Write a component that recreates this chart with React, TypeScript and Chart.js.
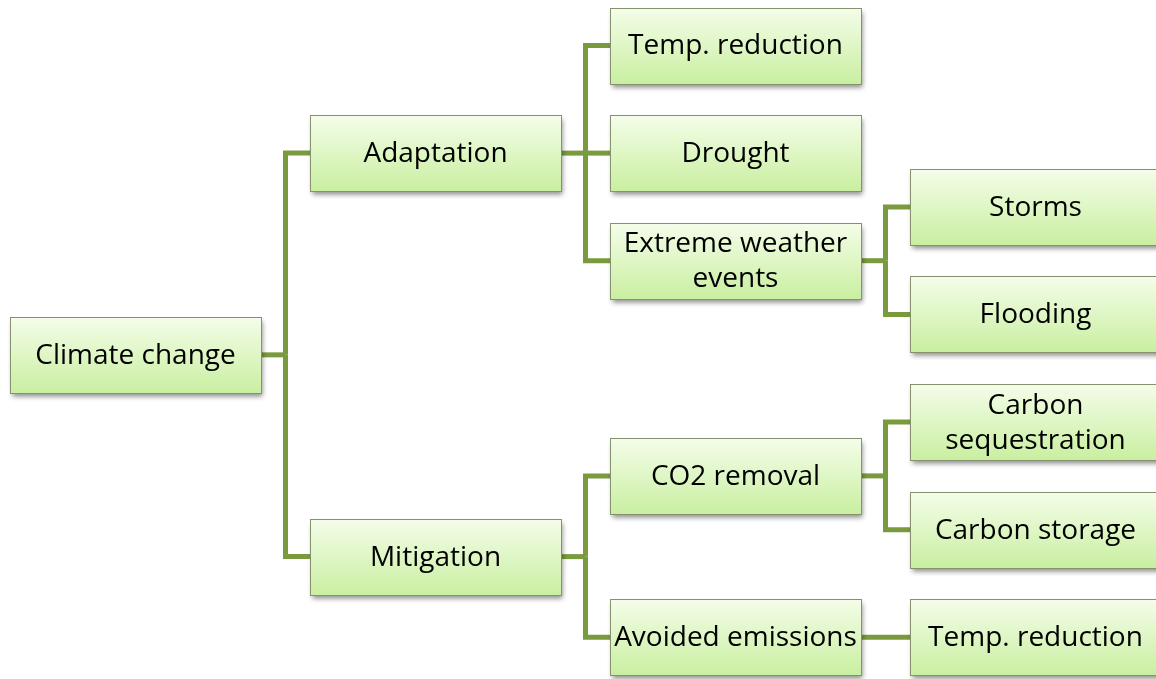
import React, { useEffect, useRef } from "react";
import { Chart, registerables } from "chart.js";

Chart.register(...registerables);

// Tree data
const nodeLabels: string[] = [
  "Climate change",
  "Adaptation",
  "Mitigation",
  "Temp. reduction",
  "Drought",
  "Extreme weather\nevents",
  "Storms",
  "Flooding",
  "CO2 removal",
  "Avoided emissions",
  "Carbon\nsequestration",
  "Carbon storage",
  "Temp. reduction",
];
const nodeParents: number[] = [-1, 0, 0, 1, 1, 1, 5, 5, 2, 2, 8, 8, 9];
// vertical slot of each node in the tree layout
const nodeRows: number[] = [5.75, 2, 9.5, 0, 2, 4, 3, 5, 8, 11, 7, 9, 11];

function depthOf(i: number): number {
  let d = 0;
  let p = nodeParents[i];
  while (p >= 0) {
    d++;
    p = nodeParents[p];
  }
  return d;
}
const nodeLevels: number[] = nodeLabels.map((_, i) => depthOf(i));

const W = 1156;
const H = 679;
const COL_PX = 300;
const ROW_PX = 53.8;
const BOX_W = 251;
const BOX_H = 76;
const X0 = 135.5; // pixel centre of column 0
const Y0 = 45.5; // pixel centre of row 0

const LINE_COLOR = "#7a9a3e";
const FONT = '28px "Open Sans", sans-serif';

const treePlugin = {
  id: "treePlugin",
  afterDatasetsDraw(chart: any) {
    const ctx: CanvasRenderingContext2D = chart.ctx;
    const xs = chart.scales.x;
    const ys = chart.scales.y;
    const bw = xs.getPixelForValue(BOX_W / COL_PX) - xs.getPixelForValue(0);
    const bh = ys.getPixelForValue(BOX_H / ROW_PX) - ys.getPixelForValue(0);
    const cx = nodeLevels.map((l) => xs.getPixelForValue(l));
    const cy = nodeRows.map((r) => ys.getPixelForValue(r));

    // connectors
    ctx.save();
    ctx.strokeStyle = LINE_COLOR;
    ctx.lineWidth = 5;
    ctx.lineCap = "butt";
    ctx.lineJoin = "miter";
    nodeLabels.forEach((_, p) => {
      const kids = nodeParents
        .map((q, i) => (q === p ? i : -1))
        .filter((i) => i >= 0);
      if (!kids.length) return;
      const right = cx[p] + bw / 2;
      const childLeft = cx[kids[0]] - bw / 2;
      const midX = (right + childLeft) / 2;
      if (kids.length === 1 && Math.abs(cy[kids[0]] - cy[p]) < 1) {
        ctx.beginPath();
        ctx.moveTo(right, cy[p]);
        ctx.lineTo(childLeft, cy[p]);
        ctx.stroke();
        return;
      }
      ctx.beginPath();
      ctx.moveTo(right, cy[p]);
      ctx.lineTo(midX, cy[p]);
      ctx.stroke();
      kids.forEach((k) => {
        ctx.beginPath();
        ctx.moveTo(midX, cy[p]);
        ctx.lineTo(midX, cy[k]);
        ctx.lineTo(childLeft, cy[k]);
        ctx.stroke();
      });
    });
    ctx.restore();

    // boxes
    nodeLabels.forEach((label, i) => {
      const x = Math.round(cx[i] - bw / 2) + 0.5;
      const y = Math.round(cy[i] - bh / 2) + 0.5;
      const w = Math.round(bw);
      const h = Math.round(bh);
      ctx.save();
      ctx.shadowColor = "rgba(0,0,0,0.45)";
      ctx.shadowBlur = 5;
      ctx.shadowOffsetX = 1;
      ctx.shadowOffsetY = 3;
      const g = ctx.createLinearGradient(0, y, 0, y + h);
      g.addColorStop(0, "#f4fde9");
      g.addColorStop(1, "#c9efa0");
      ctx.fillStyle = g;
      ctx.fillRect(x, y, w, h);
      ctx.restore();
      ctx.save();
      ctx.strokeStyle = "#86926f";
      ctx.lineWidth = 1;
      ctx.strokeRect(x, y, w, h);
      ctx.fillStyle = "#000000";
      ctx.font = FONT;
      ctx.textAlign = "center";
      ctx.textBaseline = "middle";
      const lines = label.split("\n");
      const lh = 35;
      lines.forEach((ln, j) => {
        ctx.fillText(ln, cx[i], cy[i] + 1 + (j - (lines.length - 1) / 2) * lh);
      });
      ctx.restore();
    });
  },
};

export default function App() {
  const ref = useRef<HTMLCanvasElement | null>(null);
  useEffect(() => {
    if (!ref.current) return;
    const xMin = -X0 / COL_PX;
    const yMin = -Y0 / ROW_PX;
    const chart = new Chart(ref.current, {
      type: "scatter",
      data: {
        datasets: [
          {
            data: nodeLabels.map((_, i) => ({ x: nodeLevels[i], y: nodeRows[i] })),
            pointRadius: 0,
            showLine: false,
          },
        ],
      },
      options: {
        animation: false,
        responsive: false,
        maintainAspectRatio: false,
        layout: { padding: 0 },
        plugins: {
          legend: { display: false },
          tooltip: { enabled: false },
          title: { display: false },
        },
        events: [],
        scales: {
          x: { type: "linear", display: false, min: xMin, max: xMin + W / COL_PX },
          y: { type: "linear", display: false, reverse: true, min: yMin, max: yMin + H / ROW_PX },
        },
      },
      plugins: [treePlugin],
    });
    return () => chart.destroy();
  }, []);
  return (
    <div style={{ position: "absolute", left: 0, top: 0, width: W, height: H, background: "#fff" }}>
      <canvas ref={ref} width={W} height={H} style={{ width: W, height: H, display: "block" }} />
    </div>
  );
}
